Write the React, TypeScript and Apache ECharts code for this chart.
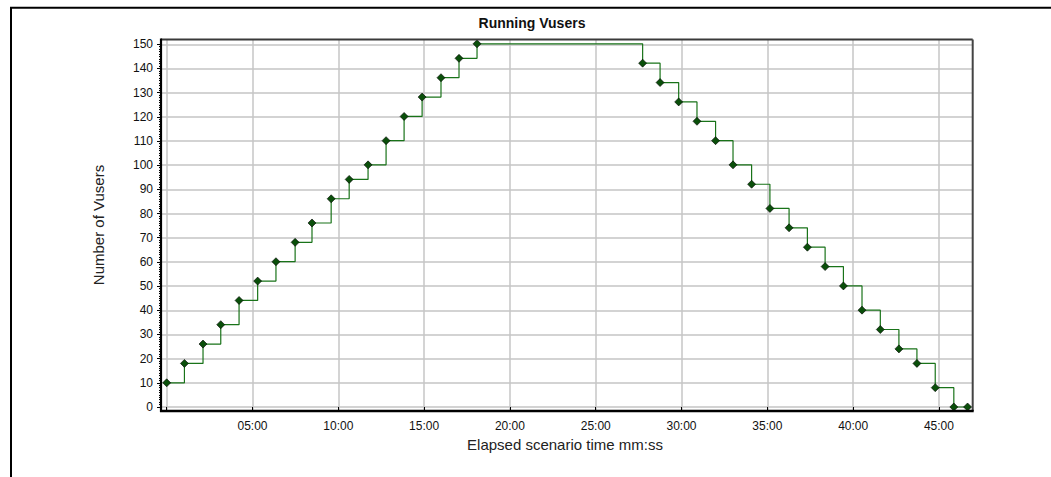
import React, { useEffect, useRef } from "react";
import * as echarts from "echarts";

// Elapsed scenario time (seconds) of each Vuser change
const elapsedSeconds: number[] = [
  0, 62, 127, 189, 253, 318, 382, 449, 508, 575, 638, 704, 767, 830, 893, 959, 1022, 1085,
  1664, 1725, 1790, 1854, 1919, 1980, 2045, 2109, 2176, 2240, 2302, 2366, 2431, 2495, 2560,
  2623, 2687, 2752, 2800,
];
// Number of running Vusers at each point
const runningVusers: number[] = [
  10, 18, 26, 34, 44, 52, 60, 68, 76, 86, 94, 100, 110, 120, 128, 136, 144, 150,
  142, 134, 126, 118, 110, 100, 92, 82, 74, 66, 58, 50, 40, 32, 24, 18, 8, 0, 0,
];

const chartTitle = "Running Vusers";
const xAxisTitle = "Elapsed scenario time mm:ss";
const yAxisTitle = "Number of Vusers";

const fmtTime = (v: number): string => {
  if (v === 0) return "";
  const m = Math.floor(v / 60);
  const s = Math.round(v - m * 60);
  return String(m).padStart(2, "0") + ":" + String(s).padStart(2, "0");
};

const FONT = "'Liberation Sans', Arial, sans-serif";

export default function App() {
  const ref = useRef<HTMLDivElement>(null);

  useEffect(() => {
    if (!ref.current) return;
    const chart = echarts.init(ref.current, null, { renderer: "svg" });
    const data = elapsedSeconds.map((t, i) => [t, runningVusers[i]]);

    const PL = 161, PR = 972.7, PT = 39.5, PB = 411;

    chart.setOption({
      animation: false,
      backgroundColor: "#ffffff",
      textStyle: { fontFamily: FONT },
      grid: [
        { left: 166.7, right: 1051 - PR, top: PT, bottom: 477 - PB, containLabel: false },
        { left: PL, right: 1051 - PR, top: 44.3, bottom: 477 - 407, containLabel: false },
      ],
      xAxis: [
        {
          type: "value",
          gridIndex: 0,
          min: 0,
          max: 2818,
          interval: 300,
          axisLine: { show: false },
          axisTick: { show: true, inside: false, length: 5, lineStyle: { color: "#000", width: 1 } },
          axisLabel: {
            margin: 9,
            color: "#111",
            fontSize: 12,
            fontFamily: FONT,
            formatter: fmtTime,
            showMaxLabel: false,
          },
          splitLine: { show: true, showMaxLine: false, lineStyle: { color: "#c6c6c6", width: 1.5 } },
        },
        { type: "value", gridIndex: 1, min: 0, max: 1, show: false },
      ],
      yAxis: [
        { type: "value", gridIndex: 0, min: -1.654, max: 151.78, show: false },
        {
          type: "value",
          gridIndex: 1,
          min: 0,
          max: 150,
          interval: 10,
          axisLine: { show: false },
          axisTick: { show: true, inside: false, length: 4, lineStyle: { color: "#000", width: 1 } },
          minorTick: { show: true, splitNumber: 10, length: 2, lineStyle: { color: "#000", width: 1 } },
          axisLabel: { margin: 8, color: "#111", fontSize: 12, fontFamily: FONT },
          splitLine: { show: true, lineStyle: { color: "#d3d3d3", width: 2 } },
        },
      ],
      series: [
        {
          type: "line",
          xAxisIndex: 0,
          yAxisIndex: 0,
          step: "end",
          data,
          symbol: "diamond",
          symbolSize: 8,
          showAllSymbol: true,
          lineStyle: { color: "#197319", width: 1.2 },
          itemStyle: { color: "#0a4f0a", borderColor: "#000", borderWidth: 0.6 },
          z: 5,
        },
      ],
      graphic: [
        // outer frame
        { type: "line", shape: { x1: 10, y1: 7.7, x2: 1051, y2: 7.7 }, style: { stroke: "#000", lineWidth: 2 }, z: 10 },
        { type: "line", shape: { x1: 11, y1: 7, x2: 11, y2: 477 }, style: { stroke: "#000", lineWidth: 2 }, z: 10 },
        // plot frame
        { type: "line", shape: { x1: PL, y1: PT, x2: PR, y2: PT }, style: { stroke: "#3a3a3a", lineWidth: 1.8 }, z: 10 },
        { type: "line", shape: { x1: PR, y1: PT, x2: PR, y2: PB }, style: { stroke: "#444", lineWidth: 2 }, z: 10 },
        { type: "line", shape: { x1: PL, y1: PT - 1, x2: PL, y2: PB + 1 }, style: { stroke: "#000", lineWidth: 2.2 }, z: 10 },
        { type: "line", shape: { x1: PL - 1, y1: PB, x2: PR + 1, y2: PB }, style: { stroke: "#000", lineWidth: 2.4 }, z: 10 },
        // titles
        {
          type: "text",
          x: 532,
          y: 23,
          style: {
            text: chartTitle,
            fill: "#111",
            font: "bold 14px " + FONT,
            textAlign: "center",
            textVerticalAlign: "middle",
          },
        },
        {
          type: "text",
          x: 565,
          y: 444.5,
          style: {
            text: xAxisTitle,
            fill: "#222",
            font: "15px " + FONT,
            textAlign: "center",
            textVerticalAlign: "middle",
          },
        },
        {
          type: "text",
          x: 98.7,
          y: 225,
          rotation: Math.PI / 2,
          style: {
            text: yAxisTitle,
            fill: "#222",
            font: "15px " + FONT,
            textAlign: "center",
            textVerticalAlign: "middle",
          },
        },
      ],
    });

    return () => chart.dispose();
  }, []);

  return (
    <div
      ref={ref}
      style={{ position: "absolute", left: 0, top: 0, width: 1051, height: 477, background: "#fff" }}
    />
  );
}
